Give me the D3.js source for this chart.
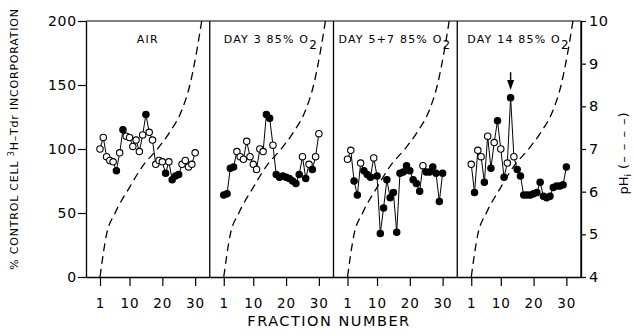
<!DOCTYPE html>
<html><head><meta charset="utf-8">
<script src="https://cdn.jsdelivr.net/npm/d3@7/dist/d3.min.js"></script>
<style>
body{margin:0;background:#fff}
svg{display:block}
text{font-family:"DejaVu Sans",sans-serif;fill:#000}
</style>
</head><body>
<svg id="chart" width="634" height="336"></svg>
<script>
// ---------- data ----------
const fractions = [1,2,3,4,5,6,7,8,9,10,11,12,13,14,15,16,17,18,19,20,21,22,23,24,25,26,27,28,29,30];
const panelTitles = ["AIR", "DAY 3 85% O", "DAY 5+7 85% O", "DAY 14 85% O"];
const panelSubscripts = ["", "2", "2", "2"];

const airValues  = [100,109,94,91,90,83,97,115,110,109,102,107,98,111,127,113,107,88,91,90,81,90,76,79,80,88,91,86,88,97];
const airFilled  = [0,0,0,0,0,1,0,1,0,0,0,0,0,0,1,0,0,0,0,0,1,0,1,1,1,0,0,0,0,0];
const day3Values = [64,65,85,86,98,94,92,106,94,88,84,100,98,127,124,103,80,78,79,78,77,75,73,80,94,77,88,84,94,112];
const day3Filled = [1,1,1,1,0,0,0,0,0,0,0,0,0,1,1,0,1,1,1,1,1,1,1,1,0,1,0,1,0,0];
const day57Values = [92,99,75,64,89,83,80,78,93,79,34,54,76,62,66,35,81,82,87,83,76,73,67,87,82,82,86,81,59,81];
const day57Filled = [0,0,1,1,0,1,1,1,0,1,1,1,1,1,1,1,1,1,1,1,1,1,1,0,1,1,1,1,1,1];
const day14Values = [88,66,99,94,74,110,85,105,122,100,78,89,140,94,84,79,64,64,64,65,66,74,63,62,63,70,71,71,72,86];
const day14Filled = [0,1,0,0,1,0,1,0,1,0,1,0,1,0,1,1,1,1,1,1,1,1,1,1,1,1,1,1,1,1];

// pH_i curve (dashed)
const pHFractions = [1, 3, 5.6, 10, 14, 18.5, 22.3, 25.9, 28.4, 30.5, 32];
const pHValues    = [4, 5.0, 5.5, 6.1, 6.6, 7.0, 7.4, 7.9, 8.5, 9.3, 10];

const yTicks = [0, 50, 100, 150, 200];
const pHTicks = [4, 5, 6, 7, 8, 9, 10];
const xTicks = [1, 10, 20, 30];
const arrowFraction = 13, arrowFrom = 160, arrowTo = 146; // panel 4 arrow

const seriesValues = [airValues, day3Values, day57Values, day14Values];
const seriesFilled = [airFilled, day3Filled, day57Filled, day14Filled];

// ---------- layout ----------
const L = 86, R = 581, T = 21, B = 277;
const panelW = (R - L) / 4;
const svg = d3.select("#chart");
const y = d3.scaleLinear().domain([0, 200]).range([B, T]);
const yPH = d3.scaleLinear().domain([4, 10]).range([B, T]);
const titleOffsets = [null, 14, 5, 10];
const fmt = d3.format("d");

const defs = svg.append("defs");

function styleAxis(g, fs, ls) {
  g.attr("font-family", null).attr("font-size", null);
  g.selectAll("path.domain").attr("stroke", "#000").attr("stroke-width", 1.3);
  g.selectAll(".tick line").attr("stroke", "#000").attr("stroke-width", 1.2);
  g.selectAll(".tick text").style("font-size", fs + "px").style("letter-spacing", ls + "px");
}

for (let p = 0; p < 4; p++) {
  const x0 = L + p * panelW, x1 = x0 + panelW;
  const x = d3.scaleLinear().domain([-3.27, 34.46]).range([x0, x1]);

  defs.append("clipPath").attr("id", "clip" + p)
    .append("rect").attr("x", x0).attr("y", T).attr("width", panelW).attr("height", B - T);

  // bottom axis
  const gx = svg.append("g").attr("transform", `translate(0,${B})`)
    .call(d3.axisBottom(x).tickValues(xTicks).tickFormat(fmt).tickSize(9).tickSizeOuter(0).tickPadding(12));
  styleAxis(gx, 13.5, 1);

  // panel frame (top + right divider)
  svg.append("line").attr("x1", x0).attr("x2", x1).attr("y1", T).attr("y2", T)
    .attr("stroke", "#000").attr("stroke-width", 1.2);
  svg.append("line").attr("x1", x1).attr("x2", x1).attr("y1", T).attr("y2", B)
    .attr("stroke", "#000").attr("stroke-width", 1.3);

  // dashed pH curve
  const phPts = pHFractions.map((f, i) => ({f, v: pHValues[i]}));
  svg.append("path").datum(phPts)
    .attr("clip-path", `url(#clip${p})`)
    .attr("d", d3.line().x(d => x(d.f)).y(d => yPH(d.v)).curve(d3.curveMonotoneX))
    .attr("fill", "none").attr("stroke", "#000").attr("stroke-width", 1.3)
    .attr("stroke-dasharray", "8,5");

  // data
  const pts = fractions.map((f, i) => ({f, v: seriesValues[p][i], filled: seriesFilled[p][i]}));
  svg.append("path").datum(pts)
    .attr("d", d3.line().x(d => x(d.f)).y(d => y(d.v)))
    .attr("fill", "none").attr("stroke", "#000").attr("stroke-width", 1);
  svg.append("g").selectAll("circle").data(pts).join("circle")
    .attr("cx", d => x(d.f)).attr("cy", d => y(d.v)).attr("r", 3.2)
    .attr("fill", d => d.filled ? "#000" : "#fff")
    .attr("stroke", "#000").attr("stroke-width", 1.1);

  // title
  const t = svg.append("text").attr("y", 42.5)
    .style("font-size", "11px").style("letter-spacing", "1.2px");
  if (p === 0) {
    t.attr("x", (x0 + x1) / 2).attr("text-anchor", "middle").text(panelTitles[p]);
  } else {
    t.attr("x", x0 + titleOffsets[p]);
    t.append("tspan").text(panelTitles[p]);
    t.append("tspan").attr("dy", 6).style("font-size", "12px").text(panelSubscripts[p]);
  }

  // arrow in last panel
  if (p === 3) {
    const ax = x(arrowFraction);
    svg.append("line").attr("x1", ax).attr("x2", ax)
      .attr("y1", y(arrowFrom)).attr("y2", y(arrowTo) - 8)
      .attr("stroke", "#000").attr("stroke-width", 1.4);
    svg.append("path")
      .attr("d", `M${ax - 3.5},${y(arrowTo) - 10} L${ax + 3.5},${y(arrowTo) - 10} L${ax},${y(arrowTo)} Z`)
      .attr("fill", "#000");
  }
}

// left axis
const gy = svg.append("g").attr("transform", `translate(${L},0)`)
  .call(d3.axisLeft(y).tickValues(yTicks).tickFormat(fmt).tickSize(8).tickSizeOuter(0).tickPadding(1));
styleAxis(gy, 14, 0.8);

// right axis
const gr = svg.append("g").attr("transform", `translate(${R},0)`)
  .call(d3.axisRight(yPH).tickValues(pHTicks).tickFormat(fmt).tickSize(5).tickSizeOuter(0).tickPadding(3));
styleAxis(gr, 14.5, 0.5);

// left axis title
const lt = svg.append("text")
  .attr("transform", "translate(17.5,139) rotate(-90)")
  .attr("text-anchor", "middle")
  .style("font-size", "11px").style("letter-spacing", "0.8px");
lt.append("tspan").text("% CONTROL CELL ");
lt.append("tspan").attr("dy", -4).style("font-size", "8px").text("3");
lt.append("tspan").attr("dy", 4).text("H\u2013Tdr INCORPORATION");

// right axis title
const rt = svg.append("text")
  .attr("transform", "translate(628,153) rotate(-90)")
  .attr("text-anchor", "middle")
  .style("font-size", "13px");
rt.append("tspan").text("pH");
rt.append("tspan").attr("dy", 3).style("font-size", "9px").text("i");
rt.append("tspan").attr("dy", -3).style("letter-spacing", "1px").text(" (\u2013 \u2013 \u2013 \u2013)");

// x axis title
svg.append("text").attr("x", 329).attr("y", 326).attr("text-anchor", "middle")
  .style("font-size", "14.5px").style("letter-spacing", "1.5px")
  .text("FRACTION NUMBER");
</script>
</body></html>
